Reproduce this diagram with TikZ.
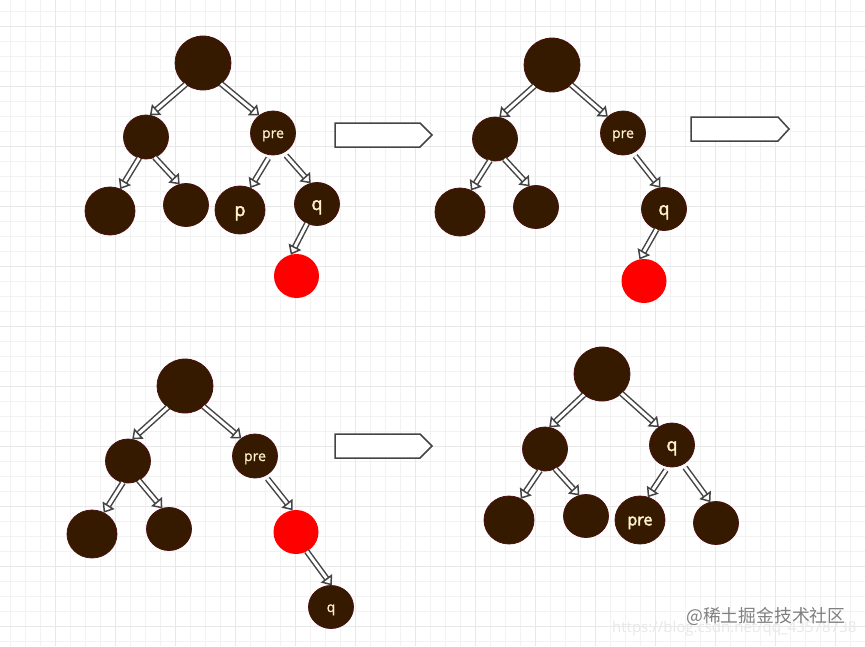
\documentclass[tikz,border=0pt]{standalone}
\usepackage{fontspec}
\setmainfont{Open Sans}
\newfontfamily\cjkwm{Noto Sans CJK SC}
\newfontface\medf[FakeBold=1]{Open Sans}
\newfontface\semf[FakeBold=2.5]{Open Sans}
\usetikzlibrary{arrows.meta,shapes.geometric}
\definecolor{nodefill}{HTML}{361A00}
\definecolor{nodeedge}{HTML}{4A1010}
\definecolor{nodetext}{HTML}{FFF2CC}
\definecolor{linegray}{HTML}{444444}
\tikzset{
  tn/.style={ellipse,inner sep=0pt,outer sep=0pt,draw=nodeedge,fill=nodefill,line width=.8pt,text=nodetext},
  rootn/.style={tn,minimum width=56pt,minimum height=54pt},
  midn/.style={tn,minimum width=45pt,minimum height=44pt},
  leafa/.style={tn,minimum width=50pt,minimum height=48pt},
  leafb/.style={tn,minimum width=45pt,minimum height=43pt},
  redn/.style={ellipse,inner sep=0pt,outer sep=0pt,fill=red,minimum width=45pt,minimum height=44pt},
  small/.style={font=\medf\fontsize{14}{14}\selectfont,text depth=0pt,text height=10pt},
  large/.style={font=\semf\fontsize{18}{18}\selectfont,text depth=0pt,text height=12pt},
  conn/.style={draw=linegray,double=white,line width=1.5pt,double distance=3pt,
    -{Triangle[open,fill=white,length=9pt,width=14pt,line width=1.5pt]}},
  gapstart/.style={shorten <=4pt},
  sig/.style={draw=linegray,fill=white,line width=1.5pt,line join=miter},
  minorgrid/.style={draw=black!5,line width=.8pt},
  majorgrid/.style={draw=black!9,line width=1pt},
}
\newcommand{\cn}[5][]{\draw[conn,#1] (#2.#3) -- (#4.#5);}
\begin{document}
\begin{tikzpicture}[x=1pt,y=-1pt]
\useasboundingbox (0,0) rectangle (865,646);
\fill[white] (0,0) rectangle (865,646);
% grid
\foreach \k in {0,...,57} \draw[minorgrid] ({10.7+15*\k},0) -- ({10.7+15*\k},646);
\foreach \k in {0,...,42} \draw[minorgrid] (0,{11.7+15*\k}) -- (865,{11.7+15*\k});
\foreach \k in {0,...,13} \draw[majorgrid] ({55.7+60*\k},0) -- ({55.7+60*\k},646);
\foreach \k in {0,...,10} \draw[majorgrid] (0,{26.7+60*\k}) -- (865,{26.7+60*\k});
% tree 1
\node[rootn] (a0) at (203,63) {};
\node[midn] (a1) at (146,137) {};
\node[midn,small] (a2) at (273,133) {pre};
\node[leafa] (a3) at (110,211) {};
\node[leafb] (a4) at (186,205) {};
\node[leafa,large] (a5) at (240,210) {p};
\node[leafb,large] (a6) at (317,204) {q};
\node[redn] (a7) at (296.5,276) {};
\cn{a0}{231}{a1}{80}
\cn{a0}{311}{a2}{128}
\cn{a1}{252}{a3}{65}
\cn{a1}{293}{a4}{107}
\cn[gapstart]{a2}{263}{a5}{65}
\cn[gapstart]{a2}{298}{a6}{107}
\cn{a6}{243}{a7}{105}
% tree 2
\node[rootn] (b0) at (552,65) {};
\node[midn] (b1) at (495,139) {};
\node[midn,small] (b2) at (623,133) {pre};
\node[leafa] (b3) at (460,212) {};
\node[leafb] (b4) at (536,207) {};
\node[leafb,large] (b5) at (664,209) {q};
\node[redn] (b6) at (644,281) {};
\cn{b0}{230}{b1}{79}
\cn{b0}{314}{b2}{133}
\cn{b1}{257}{b3}{63}
\cn{b1}{295}{b4}{107}
\cn[gapstart]{b2}{296}{b5}{100}
\cn{b5}{250}{b6}{102}
% tree 3
\node[rootn] (c0) at (185,386) {};
\node[midn] (c1) at (128,461) {};
\node[midn,small] (c2) at (255,456) {pre};
\node[leafa] (c3) at (92,534) {};
\node[leafb] (c4) at (169,529) {};
\node[redn] (c5) at (296,532) {};
\node[leafb,small] (c6) at (331,607) {q};
\cn{c0}{231}{c1}{79}
\cn{c0}{312}{c2}{128}
\cn{c1}{257}{c3}{61}
\cn{c1}{299}{c4}{108}
\cn[gapstart]{c2}{297}{c5}{99}
\cn{c5}{299}{c6}{88}
% tree 4
\node[rootn] (d0) at (602,374) {};
\node[midn] (d1) at (545,449) {};
\node[midn,large] (d2) at (672,445) {q};
\node[leafa] (d3) at (509,520) {};
\node[leafb] (d4) at (586,516) {};
\node[leafa,font=\semf\fontsize{16}{16}\selectfont,text depth=0pt,text height=10.6pt] (d5) at (640,520) {pre};
\node[leafb] (d6) at (716,523) {};
\cn{d0}{229}{d1}{79}
\cn{d0}{315}{d2}{126}
\cn{d1}{257}{d3}{61}
\cn{d1}{297}{d4}{108}
\cn[gapstart]{d2}{260}{d5}{71}
\cn[gapstart]{d2}{299}{d6}{105}
% block arrows
\draw[sig] (335,123) -- (420,123) -- (432,135) -- (420,147) -- (335,147) -- cycle;
\draw[sig] (691,117) -- (778,117) -- (789,129) -- (778,141) -- (691,141) -- cycle;
\draw[sig] (335,434) -- (420,434) -- (432,446) -- (420,458) -- (335,458) -- cycle;
% watermarks
\node[anchor=west,inner sep=0pt,text=black!9,font=\fontsize{15}{15}\selectfont] (w2) at (612,629) {https://blog.csdn.net/qq\_43578738};
\node[anchor=west,inner sep=0pt,text=black!50,font=\cjkwm\fontsize{17.8}{17.8}\selectfont] (w1) at (686,616) {@稀土掘金技术社区};
\end{tikzpicture}
\end{document}
